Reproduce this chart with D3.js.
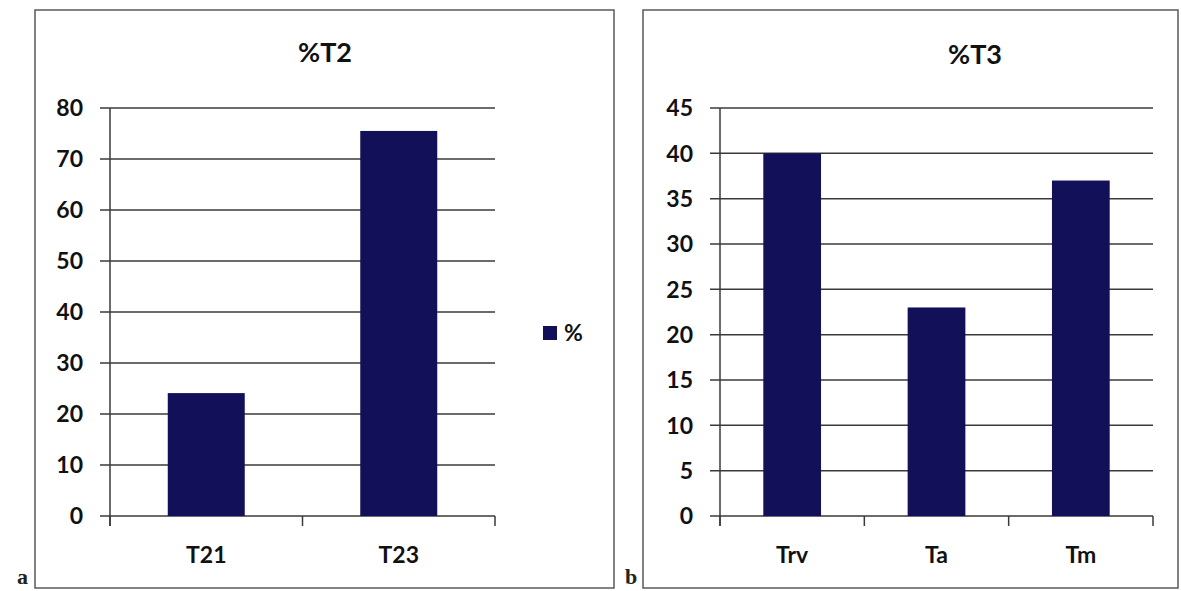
<!DOCTYPE html>
<html><head><meta charset="utf-8">
<script src="https://cdn.jsdelivr.net/npm/d3@7"></script>
<style>body{margin:0;background:#fff}svg{display:block}</style>
</head><body><svg id="c" width="1181" height="591"></svg>
<script>
const catsA = ["T21", "T23"];
const valsA = [24.1, 75.5];
const ticksA = [0, 10, 20, 30, 40, 50, 60, 70, 80];
const catsB = ["Trv", "Ta", "Tm"];
const valsB = [40, 23, 37];
const ticksB = [0, 5, 10, 15, 20, 25, 30, 35, 40, 45];
const seriesName = "%";

const svg = d3.select("#c");
const barColor = "#13105a";
const sans = "Lato, 'Open Sans', sans-serif";

function panel(cfg) {
  const g = svg.append("g").style("font-family", sans);
  g.append("rect").attr("x", cfg.box[0]).attr("y", cfg.box[1]).attr("width", cfg.box[2]).attr("height", cfg.box[3])
    .attr("fill", "#fff").attr("stroke", "#5a5a5a").attr("stroke-width", 1.5);
  const x = d3.scaleBand().domain(cfg.cats).range([cfg.x0, cfg.x1]).paddingInner(0.6).paddingOuter(0.3);
  const y = d3.scaleLinear().domain([0, d3.max(cfg.ticks)]).range([516, 108]);
  g.append("g").selectAll("line").data(cfg.ticks).join("line")
    .attr("x1", cfg.x0 - 10).attr("x2", cfg.x1).attr("y1", d => y(d)).attr("y2", d => y(d))
    .attr("stroke", "#3a3a3a").attr("stroke-width", 1.5);
  g.append("g").selectAll("rect").data(cfg.cats).join("rect")
    .attr("x", d => x(d)).attr("width", x.bandwidth())
    .attr("y", (d, i) => y(cfg.vals[i])).attr("height", (d, i) => y(0) - y(cfg.vals[i]))
    .attr("fill", barColor);
  g.append("line").attr("x1", cfg.x0).attr("x2", cfg.x0).attr("y1", y(d3.max(cfg.ticks))).attr("y2", y(0) + 10)
    .attr("stroke", "#3a3a3a").attr("stroke-width", 1.5);
  const step = (cfg.x1 - cfg.x0) / cfg.cats.length;
  g.append("g").selectAll("line").data(d3.range(cfg.cats.length + 1)).join("line")
    .attr("x1", i => cfg.x0 + i * step).attr("x2", i => cfg.x0 + i * step)
    .attr("y1", y(0)).attr("y2", y(0) + 10).attr("stroke", "#3a3a3a").attr("stroke-width", 1.5);
  g.append("g").selectAll("text").data(cfg.ticks).join("text")
    .attr("x", cfg.x0 - 27).attr("y", d => y(d)).attr("dy", "0.36em").attr("text-anchor", "end")
    .attr("font-size", 23).attr("font-weight", 700).attr("fill", "#111").text(d => d);
  g.append("g").selectAll("text").data(cfg.cats).join("text")
    .attr("x", d => x(d) + x.bandwidth() / 2).attr("y", 563).attr("text-anchor", "middle")
    .attr("font-size", 23).attr("font-weight", 700).attr("fill", "#111").text(d => d);
  g.append("text").attr("x", cfg.titleX).attr("y", cfg.titleY).attr("text-anchor", "middle")
    .attr("font-size", 27).attr("font-weight", 700).attr("fill", "#111").text(cfg.title);
  g.append("text").attr("x", cfg.letterX).attr("y", 584).style("font-family", "'Liberation Serif', serif")
    .attr("font-size", 22).attr("font-weight", 700).attr("fill", "#222").text(cfg.letter);
  return g;
}

panel({box: [35, 10, 579, 578], cats: catsA, vals: valsA, ticks: ticksA, x0: 110, x1: 495,
  title: "%T2", titleX: 325, titleY: 62, letter: "a", letterX: 17});
panel({box: [643, 10, 535, 578], cats: catsB, vals: valsB, ticks: ticksB, x0: 720, x1: 1153,
  title: "%T3", titleX: 975, titleY: 64, letter: "b", letterX: 625});

const lg = svg.append("g").style("font-family", sans);
lg.selectAll("rect").data([seriesName]).join("rect")
  .attr("x", 543).attr("y", 326).attr("width", 14).attr("height", 14).attr("fill", barColor);
lg.selectAll("text").data([seriesName]).join("text")
  .attr("x", 564).attr("y", 333).attr("dy", "0.36em").attr("font-size", 23).attr("font-weight", 700)
  .attr("fill", "#111").text(d => d);
</script></body></html>
